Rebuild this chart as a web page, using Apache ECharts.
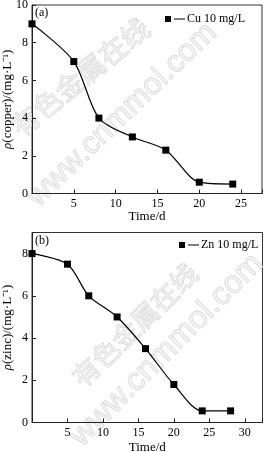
<!DOCTYPE html>
<html>
<head>
<meta charset="utf-8">
<script src="https://cdn.jsdelivr.net/npm/echarts@6/dist/echarts.min.js"></script>
<style>
html,body{margin:0;padding:0;background:#fff;}
#c{width:265px;height:452px;}
</style>
</head>
<body>
<div id="c"></div>
<script>
// Panel (a): copper
const cuTime = [0, 5, 8, 12, 16, 20, 24];
const cuConc = [9.0, 7.0, 4.0, 3.0, 2.3, 0.6, 0.5];
// Panel (b): zinc
const znTime = [0, 5, 8, 12, 16, 20, 24, 28];
const znConc = [8.0, 7.5, 6.0, 5.0, 3.5, 1.8, 0.55, 0.55];

const cuName = 'Cu 10 mg/L';
const znName = 'Zn 10 mg/L';
const xTitle = 'Time/d';
const cuYTitle = '{i|ρ}(copper)/(mg·L⁻¹)';
const znYTitle = '{i|ρ}(zinc)/(mg·L⁻¹)';

const SERIF = '"Liberation Serif","Times New Roman",serif';
const pairs = (xs, ys) => xs.map((x, i) => [x, ys[i]]);
const legendIcon = 'path://M0,0h6v6h-6z M9,2.4h11v1.2h-11z';

function xAxis(gi, max, gap) {
  return {
    gridIndex: gi, type: 'value', min: 0, max: max, interval: 5,
    name: xTitle, nameLocation: 'middle', nameGap: gap,
    nameTextStyle: {fontFamily: SERIF, fontSize: 13, color: '#000'},
    axisLine: {show: true, onZero: false, lineStyle: {color: '#222', width: 1}},
    axisTick: {show: true, inside: true, length: 4, lineStyle: {color: '#222'}},
    axisLabel: {margin: 4, fontFamily: SERIF, fontSize: 12, color: '#000', hideOverlap: false,
      formatter: v => (v > 0 && v % 5 === 0) ? String(v) : ''},
    splitLine: {show: false}
  };
}
function yAxis(gi, max, name) {
  return {
    gridIndex: gi, type: 'value', min: 0, max: max, interval: 2,
    name: name, nameLocation: 'middle', nameGap: 18, nameMoveOverlap: false,
    nameTextStyle: {fontFamily: SERIF, fontSize: 13, color: '#000',
      rich: {
        i: {fontFamily: SERIF, fontSize: 13, fontStyle: 'italic', color: '#000'}
      }},
    axisLine: {show: true, onZero: false, lineStyle: {color: '#222', width: 1}},
    axisTick: {show: true, inside: true, length: 4, lineStyle: {color: '#222'}},
    axisLabel: {margin: 4, fontFamily: SERIF, fontSize: 12, color: '#000', hideOverlap: false,
      showMaxLabel: true,
      formatter: v => (Math.round(v) % 2 === 0) ? String(Math.round(v)) : ''},
    splitLine: {show: false}
  };
}
function series(name, xi, yi, data) {
  return {
    name: name, type: 'line', xAxisIndex: xi, yAxisIndex: yi,
    data: data, smooth: 0.3, symbol: 'rect', symbolSize: 7,
    itemStyle: {color: '#000'}, lineStyle: {color: '#000', width: 1.2},
    z: 3
  };
}
function wm(text, x, y, deg, size, font) {
  return {
    type: 'text', x: x, y: y, rotation: deg * Math.PI / 180, z: 0, silent: true,
    style: {text: text, fontSize: size, fontFamily: font, align: 'center', verticalAlign: 'middle',
      fill: 'rgba(235,235,235,0.5)', stroke: '#d3d3d3', lineWidth: 0.8}
  };
}

const chart = echarts.init(document.getElementById('c'), null, {renderer: 'canvas'});
chart.setOption({
  backgroundColor: '#fff',
  animation: false,
  grid: [
    {left: 32, top: 5, width: 230, height: 188.5, show: true, borderColor: '#333', borderWidth: 1,
      containLabel: false, outerBoundsMode: 'none'},
    {left: 32, top: 232.5, width: 230.5, height: 190, show: true, borderColor: '#333', borderWidth: 1,
      containLabel: false, outerBoundsMode: 'none'}
  ],
  xAxis: [xAxis(0, 27.5, 17), xAxis(1, 32.5, 19)],
  yAxis: [yAxis(0, 10, cuYTitle), yAxis(1, 9, znYTitle)],
  legend: [
    {left: 165, top: 13, itemWidth: 20, itemHeight: 6, itemGap: 0, padding: 0,
      textStyle: {fontFamily: SERIF, fontSize: 12, color: '#000', padding: [0, 0, 0, -3]},
      data: [{name: cuName, icon: legendIcon}]},
    {left: 179, top: 239, itemWidth: 20, itemHeight: 6, itemGap: 0, padding: 0,
      textStyle: {fontFamily: SERIF, fontSize: 12, color: '#000', padding: [0, 0, 0, -3]},
      data: [{name: znName, icon: legendIcon}]}
  ],
  graphic: [
    wm('有色金属在线', 80, 77, 39, 28, '"Noto Sans CJK SC",sans-serif'),
    wm('www.cnmmol.com', 122, 115, 44, 31, '"Liberation Sans",Arial,sans-serif'),
    wm('有色金属在线', 135, 325, 44, 27, '"Noto Sans CJK SC",sans-serif'),
    wm('www.cnmmol.com', 167, 350, 45, 32, '"Liberation Sans",Arial,sans-serif'),
    {type: 'text', left: 35, top: 7, z: 5, style: {text: '(a)', fontFamily: SERIF, fontSize: 12, fill: '#000'}},
    {type: 'text', left: 35, top: 235, z: 5, style: {text: '(b)', fontFamily: SERIF, fontSize: 12, fill: '#000'}}
  ],
  series: [
    series(cuName, 0, 0, pairs(cuTime, cuConc)),
    series(znName, 1, 1, pairs(znTime, znConc))
  ]
});
</script>
</body>
</html>
